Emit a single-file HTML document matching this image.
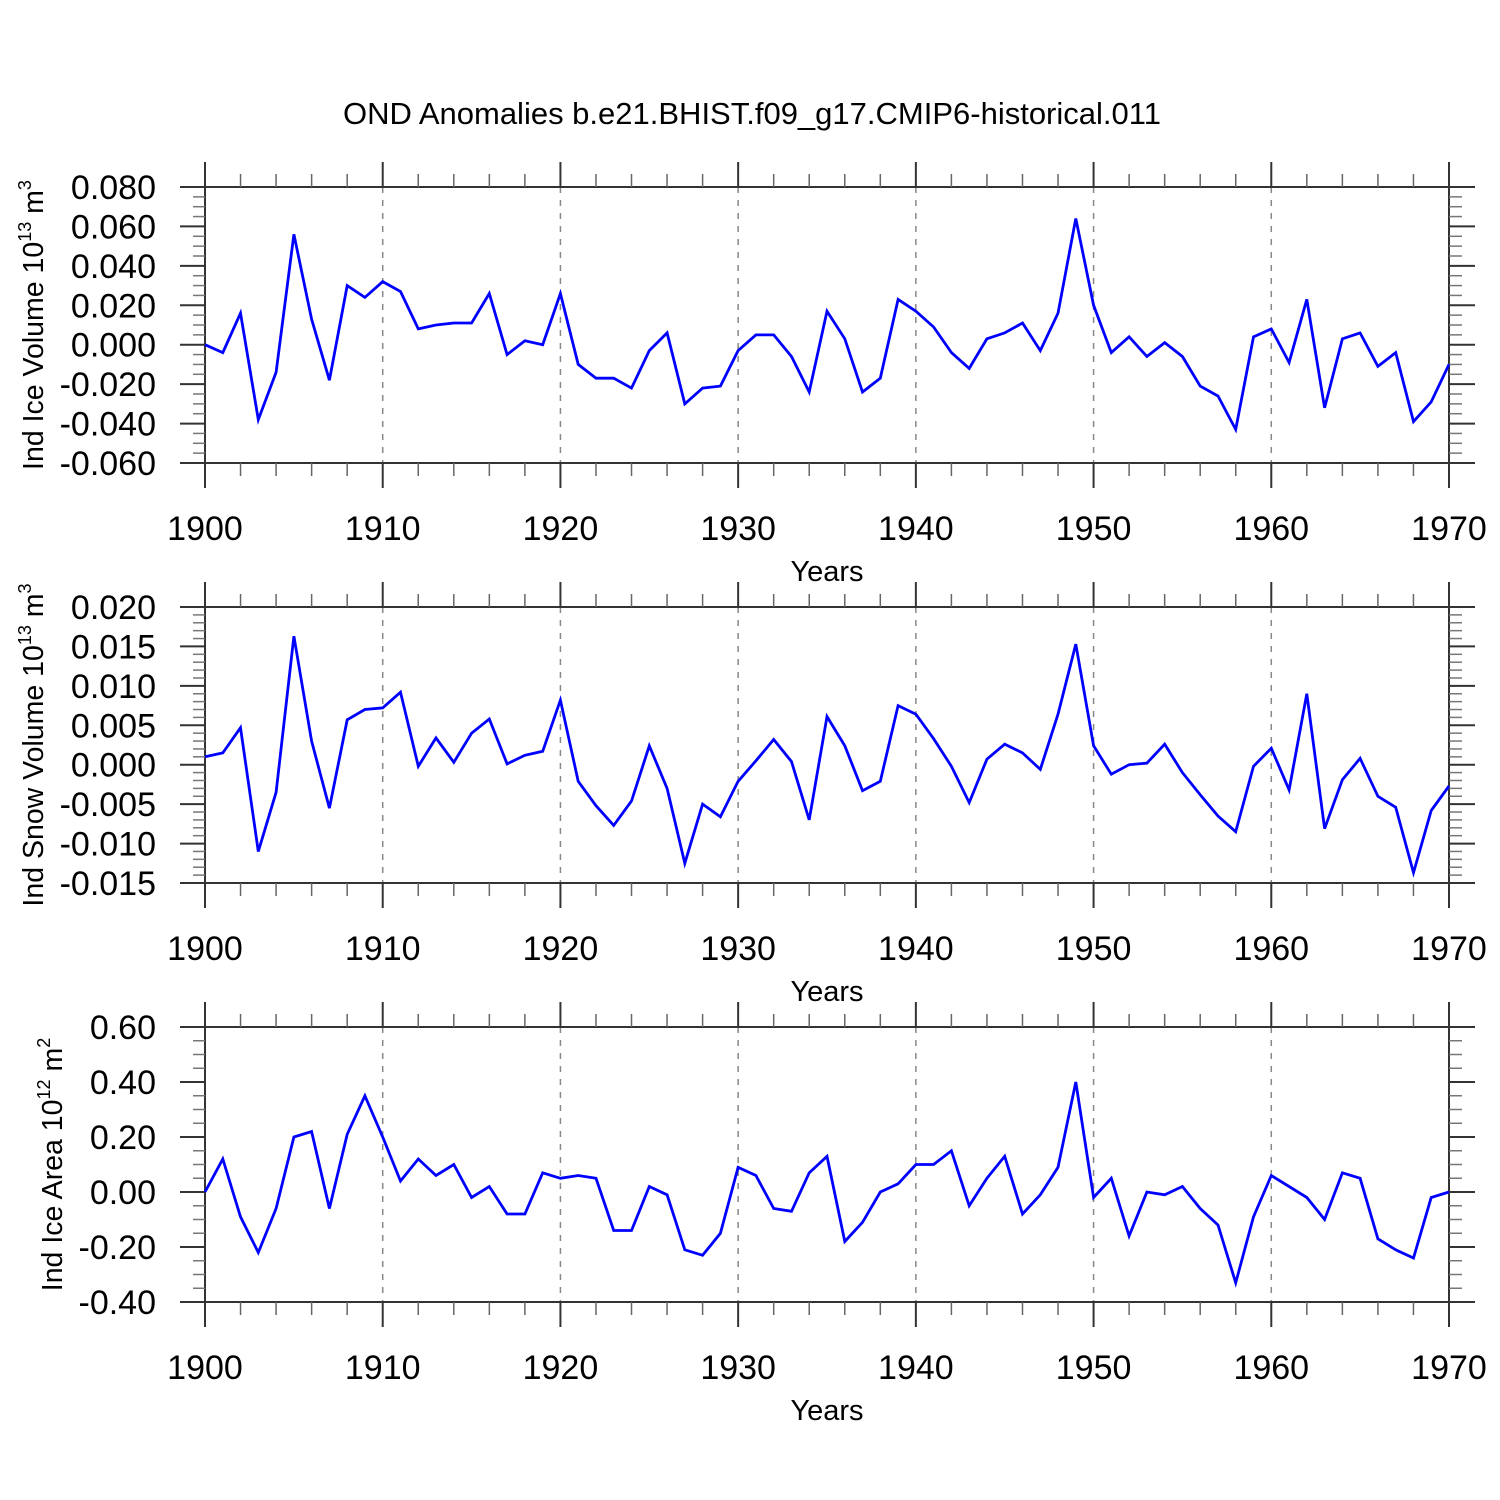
<!DOCTYPE html>
<html><head><meta charset="utf-8"><style>
html,body{margin:0;padding:0;background:#fff;}
svg{display:block;font-family:"Liberation Sans",Arial,sans-serif;}
</style></head><body>
<svg id="chart" xmlns="http://www.w3.org/2000/svg" width="1500" height="1500" viewBox="0 0 1500 1500">
<rect width="1500" height="1500" fill="#fff"/>
<text x="752" y="124" font-size="31" text-anchor="middle">OND Anomalies b.e21.BHIST.f09_g17.CMIP6-historical.011</text>
</svg>
<script>
const years = [];
for (let y = 1900; y <= 1970; y++) years.push(y);
const xTickLabels = ["1900","1910","1920","1930","1940","1950","1960","1970"];
const iceVolume = [0.000,-0.004,0.016,-0.038,-0.014,0.056,0.013,-0.018,0.030,0.024,0.032,0.027,0.008,0.010,0.011,0.011,0.026,-0.005,0.002,0.000,0.026,-0.010,-0.017,-0.017,-0.022,-0.003,0.006,-0.030,-0.022,-0.021,-0.003,0.005,0.005,-0.006,-0.024,0.017,0.003,-0.024,-0.017,0.023,0.017,0.009,-0.004,-0.012,0.003,0.006,0.011,-0.003,0.016,0.064,0.020,-0.004,0.004,-0.006,0.001,-0.006,-0.021,-0.026,-0.043,0.004,0.008,-0.009,0.023,-0.032,0.003,0.006,-0.011,-0.004,-0.039,-0.029,-0.010];
const snowVolume = [0.0010,0.0015,0.0047,-0.0110,-0.0035,0.0163,0.0030,-0.0055,0.0057,0.0070,0.0072,0.0092,-0.0002,0.0034,0.0003,0.0040,0.0058,0.0001,0.0012,0.0017,0.0082,-0.0021,-0.0052,-0.0077,-0.0046,0.0024,-0.0030,-0.0125,-0.0050,-0.0066,-0.0021,0.0005,0.0032,0.0004,-0.0070,0.0061,0.0024,-0.0033,-0.0021,0.0075,0.0064,0.0033,-0.0002,-0.0048,0.0007,0.0026,0.0015,-0.0006,0.0064,0.0153,0.0024,-0.0012,0.0000,0.0002,0.0026,-0.0010,-0.0038,-0.0065,-0.0085,-0.0002,0.0021,-0.0032,0.0090,-0.0081,-0.0019,0.0008,-0.0040,-0.0054,-0.0137,-0.0058,-0.0027];
const iceArea = [0.00,0.12,-0.09,-0.22,-0.06,0.20,0.22,-0.06,0.21,0.35,0.20,0.04,0.12,0.06,0.10,-0.02,0.02,-0.08,-0.08,0.07,0.05,0.06,0.05,-0.14,-0.14,0.02,-0.01,-0.21,-0.23,-0.15,0.09,0.06,-0.06,-0.07,0.07,0.13,-0.18,-0.11,0.00,0.03,0.10,0.10,0.15,-0.05,0.05,0.13,-0.08,-0.01,0.09,0.40,-0.02,0.05,-0.16,0.00,-0.01,0.02,-0.06,-0.12,-0.33,-0.09,0.06,0.02,-0.02,-0.10,0.07,0.05,-0.17,-0.21,-0.24,-0.02,0.00];
const iceVolTicks = ["0.080","0.060","0.040","0.020","0.000","-0.020","-0.040","-0.060"];
const snowVolTicks = ["0.020","0.015","0.010","0.005","0.000","-0.005","-0.010","-0.015"];
const iceAreaTicks = ["0.60","0.40","0.20","0.00","-0.20","-0.40"];

const NS = "http://www.w3.org/2000/svg";
const svg = document.getElementById('chart');
const X0 = 205, X1 = 1449;
function xScale(yr){ return X0 + (yr - 1900) / 70 * (X1 - X0); }
function mk(tag, attrs, parent){
  const e = document.createElementNS(NS, tag);
  for (const k in attrs) e.setAttribute(k, attrs[k]);
  (parent || svg).appendChild(e);
  return e;
}
function ln(g, x1, y1, x2, y2, stroke, w, dash){
  const l = mk('line', {x1:x1, y1:y1, x2:x2, y2:y2, stroke:stroke, 'stroke-width':w}, g);
  if (dash) l.setAttribute('stroke-dasharray', dash);
  return l;
}

const panels = [
  {name:'ice-volume', top:187, bot:463, ymax:0.08, ymin:-0.06, ticks:iceVolTicks, minorN:4, data:iceVolume, title:'Ind Ice Volume 10', sup:'13', unit:' m', usup:'3', tx:43},
  {name:'snow-volume', top:607, bot:883, ymax:0.02, ymin:-0.015, ticks:snowVolTicks, minorN:5, data:snowVolume, title:'Ind Snow Volume 10', sup:'13', unit:' m', usup:'3', tx:43},
  {name:'ice-area', top:1027, bot:1302, ymax:0.6, ymin:-0.4, ticks:iceAreaTicks, minorN:4, data:iceArea, title:'Ind Ice Area 10', sup:'12', unit:' m', usup:'2', tx:62}
];

panels.forEach(p => {
  const g = mk('g', {});
  
  
  const yScale = v => p.top + (p.ymax - v) / (p.ymax - p.ymin) * (p.bot - p.top);
  for (let d = 1910; d <= 1960; d += 10) {
    const gl = ln(g, xScale(d), p.top, xScale(d), p.bot, '#888', 1.5, '6,7');
    
    
  }
  ln(g, 180, p.top, 1475, p.top, '#333', 2);
  ln(g, 180, p.bot, 1475, p.bot, '#333', 2);
  ln(g, X0, p.top - 25, X0, p.bot + 25, '#333', 2);
  ln(g, X1, p.top - 25, X1, p.bot + 25, '#333', 2);
  for (let yr = 1900; yr <= 1970; yr += 2) {
    const x = xScale(yr);
    if (yr % 10 === 0) {
      ln(g, x, p.top - 25, x, p.top, '#333', 2);
      ln(g, x, p.bot, x, p.bot + 25, '#333', 2);
    } else {
      ln(g, x, p.top - 13, x, p.top, '#666', 1.5);
      ln(g, x, p.bot, x, p.bot + 13, '#666', 1.5);
    }
  }
  xTickLabels.forEach(lbl => {
    const t = mk('text', {x:xScale(+lbl), y:p.bot + 77, 'font-size':34, 'text-anchor':'middle'}, g);
    
    
    t.textContent = lbl;
  });
  const xt = mk('text', {x:827, y:p.bot + 118, 'font-size':29, 'text-anchor':'middle'}, g);
  
  
  xt.textContent = 'Years';
  const n = p.ticks.length;
  const step = (p.ymax - p.ymin) / (n - 1);
  p.ticks.forEach((lbl, i) => {
    const v = p.ymax - i * step;
    const y = yScale(v);
    ln(g, 180, y, X0, y, '#333', 2);
    ln(g, X1, y, 1475, y, '#333', 2);
    const t = mk('text', {x:156, y:y + 12, 'font-size':34, 'text-anchor':'end'}, g);
    
    
    t.textContent = lbl;
    if (i < n - 1) {
      for (let k = 1; k < p.minorN; k++) {
        const ym = yScale(v - step * k / p.minorN);
        ln(g, 193, ym, X0, ym, '#777', 1.5);
        ln(g, X1, ym, 1462, ym, '#777', 1.5);
      }
    }
  });
  const cy = (p.top + p.bot) / 2;
  const yt = mk('text', {x:p.tx, y:cy, 'font-size':28.5, 'text-anchor':'middle', transform:'rotate(-90 ' + p.tx + ' ' + cy + ')'}, g);
  
  
  const s1 = mk('tspan', {}, yt); s1.textContent = p.title;
  const s2 = mk('tspan', {dy:-12, 'font-size':18}, yt); s2.textContent = p.sup;
  const s3 = mk('tspan', {dy:12}, yt); s3.textContent = p.unit;
  const s4 = mk('tspan', {dy:-12, 'font-size':18}, yt); s4.textContent = p.usup;
  const pts = p.data.map((v, i) => xScale(years[i]).toFixed(1) + ',' + yScale(v).toFixed(1)).join(' ');
  const pl = mk('polyline', {points:pts, fill:'none', stroke:'#0000ff', 'stroke-width':2.8, 'stroke-linejoin':'miter'}, g);
  
  
});
</script>
</body></html>
